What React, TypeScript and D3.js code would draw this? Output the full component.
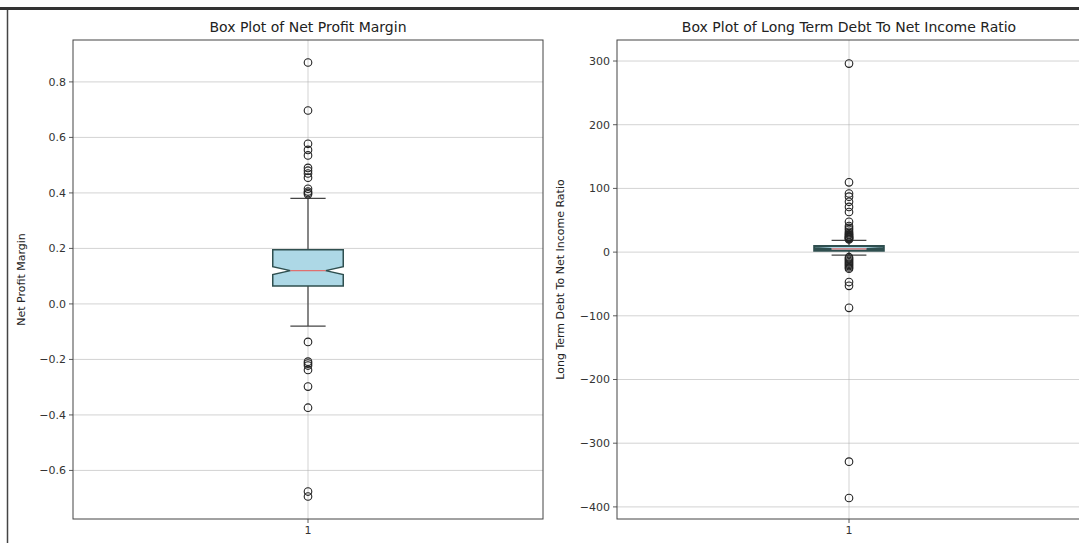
import React from 'react';
import * as d3 from 'd3';

// box stats: [lower whisker, Q1, median, Q3, upper whisker]
const npmBox = [-0.08, 0.065, 0.12, 0.195, 0.38];
const npmNotch = [0.106, 0.134];
const npmOutliers = [0.87, 0.697, 0.577, 0.555, 0.535, 0.49, 0.48, 0.47, 0.455, 0.415, 0.405, 0.4, 0.395,
  -0.137, -0.208, -0.215, -0.222, -0.238, -0.298, -0.374, -0.676, -0.694];
const npmTicks = [-0.6, -0.4, -0.2, 0.0, 0.2, 0.4, 0.6, 0.8];

const ltdBox = [-4.7, 2, 5, 9.4, 18.5];
const ltdNotch = [3.5, 6.5];
const ltdOutliers = [296, 109.5, 92, 87, 79, 71, 63, 47.6, 41, 38, 35, 32, 30, 28, 27, 25, 24, 23, 22, 21, 20,
  -8, -10, -12, -14, -16, -18, -20, -22, -24, -26, -47, -53, -87.5, -329, -386];
const ltdTicks = [-400, -300, -200, -100, 0, 100, 200, 300];

const font = '"DejaVu Sans", sans-serif';

interface PanelProps {
  left: number; right: number; top: number; bottom: number;
  domain: [number, number];
  box: number[]; notch: number[]; outliers: number[]; ticks: number[];
  fmt: (v: number) => string;
  title: string; ylabel: string; ylabelX: number; edge: number;
}

const Panel = (p: PanelProps) => {
  const y = d3.scaleLinear().domain(p.domain).range([p.bottom, p.top]);
  const x = d3.scaleLinear().domain([0.5, 1.5]).range([p.left, p.right]);
  const cx = x(1);
  const hw = x(1.075) - cx;
  const [lo, q1, med, q3, hi] = p.box;
  const [n1, n2] = p.notch;
  const boxPath = d3.path();
  boxPath.moveTo(cx - hw, y(q1));
  boxPath.lineTo(cx + hw, y(q1));
  boxPath.lineTo(cx + hw, y(n1));
  boxPath.lineTo(cx + hw / 2, y(med));
  boxPath.lineTo(cx + hw, y(n2));
  boxPath.lineTo(cx + hw, y(q3));
  boxPath.lineTo(cx - hw, y(q3));
  boxPath.lineTo(cx - hw, y(n2));
  boxPath.lineTo(cx - hw / 2, y(med));
  boxPath.lineTo(cx - hw, y(n1));
  boxPath.closePath();
  const midY = (p.top + p.bottom) / 2;
  return (
    <g>
      {p.ticks.map(t => (
        <g key={t}>
          <line x1={p.left} x2={p.right} y1={y(t)} y2={y(t)} stroke="#b0b0b0" strokeOpacity={0.7} strokeWidth={0.8} />
          <line x1={p.left - 4} x2={p.left} y1={y(t)} y2={y(t)} stroke="#333" strokeWidth={0.8} />
          <text x={p.left - 7} y={y(t)} dy="0.35em" textAnchor="end" fontSize={11} fill="#333" fontFamily={font}>{p.fmt(t)}</text>
        </g>
      ))}
      <line x1={cx} x2={cx} y1={p.top} y2={p.bottom} stroke="#b0b0b0" strokeOpacity={0.7} strokeWidth={0.8} />
      <line x1={cx} x2={cx} y1={p.bottom} y2={p.bottom + 4} stroke="#333" strokeWidth={0.8} />
      <text x={cx} y={p.bottom + 15} textAnchor="middle" fontSize={11} fill="#333" fontFamily={font}>1</text>
      {/* whiskers */}
      <line x1={cx} x2={cx} y1={y(q3)} y2={y(hi)} stroke="#444" strokeWidth={1.2} />
      <line x1={cx} x2={cx} y1={y(q1)} y2={y(lo)} stroke="#444" strokeWidth={1.2} />
      <line x1={cx - hw / 2} x2={cx + hw / 2} y1={y(hi)} y2={y(hi)} stroke="#444" strokeWidth={1.2} />
      <line x1={cx - hw / 2} x2={cx + hw / 2} y1={y(lo)} y2={y(lo)} stroke="#444" strokeWidth={1.2} />
      {p.outliers.map((o, i) => (
        <circle key={i} cx={cx} cy={y(o)} r={3.8} fill="none" stroke="#222" strokeWidth={1.1} />
      ))}
      <path d={boxPath.toString()} fill="#add8e6" stroke="#2f4f4f" strokeWidth={p.edge} />
      <line x1={cx - hw / 2} x2={cx + hw / 2} y1={y(med)} y2={y(med)} stroke="#e07070" strokeWidth={1.2} />
      <rect x={p.left} y={p.top} width={p.right - p.left} height={p.bottom - p.top} fill="none" stroke="#444" strokeWidth={1} />
      <text x={cx} y={p.top - 8} textAnchor="middle" fontSize={14} fill="#222" fontFamily={font}>{p.title}</text>
      <text transform={`translate(${p.ylabelX},${midY}) rotate(-90)`} textAnchor="middle" fontSize={11} fill="#222" fontFamily={font}>{p.ylabel}</text>
    </g>
  );
};

const App = () => {
  const width = 1079;
  const height = 543;
  return (
    <div style={{ position: 'fixed', left: 0, top: 0 }}>
      <svg width={width} height={height} style={{ display: 'block', background: '#fff' }}>
        <rect x={0} y={7} width={width} height={3} fill="#333" />
        <line x1={7.5} x2={7.5} y1={10} y2={height} stroke="#444" strokeWidth={1.5} />
        <Panel left={73} right={543} top={40} bottom={519} domain={[-0.775, 0.951]}
          box={npmBox} notch={npmNotch} outliers={npmOutliers} ticks={npmTicks} edge={1.5}
          fmt={v => d3.format('.1f')(v).replace('-', '\u2212')}
          title="Box Plot of Net Profit Margin" ylabel="Net Profit Margin" ylabelX={25} />
        <Panel left={617} right={1081} top={40} bottom={519} domain={[-419, 333]}
          box={ltdBox} notch={ltdNotch} outliers={ltdOutliers} ticks={ltdTicks} edge={2}
          fmt={v => d3.format('d')(v).replace('-', '\u2212')}
          title="Box Plot of Long Term Debt To Net Income Ratio" ylabel="Long Term Debt To Net Income Ratio" ylabelX={564} />
      </svg>
    </div>
  );
};

export default App;
